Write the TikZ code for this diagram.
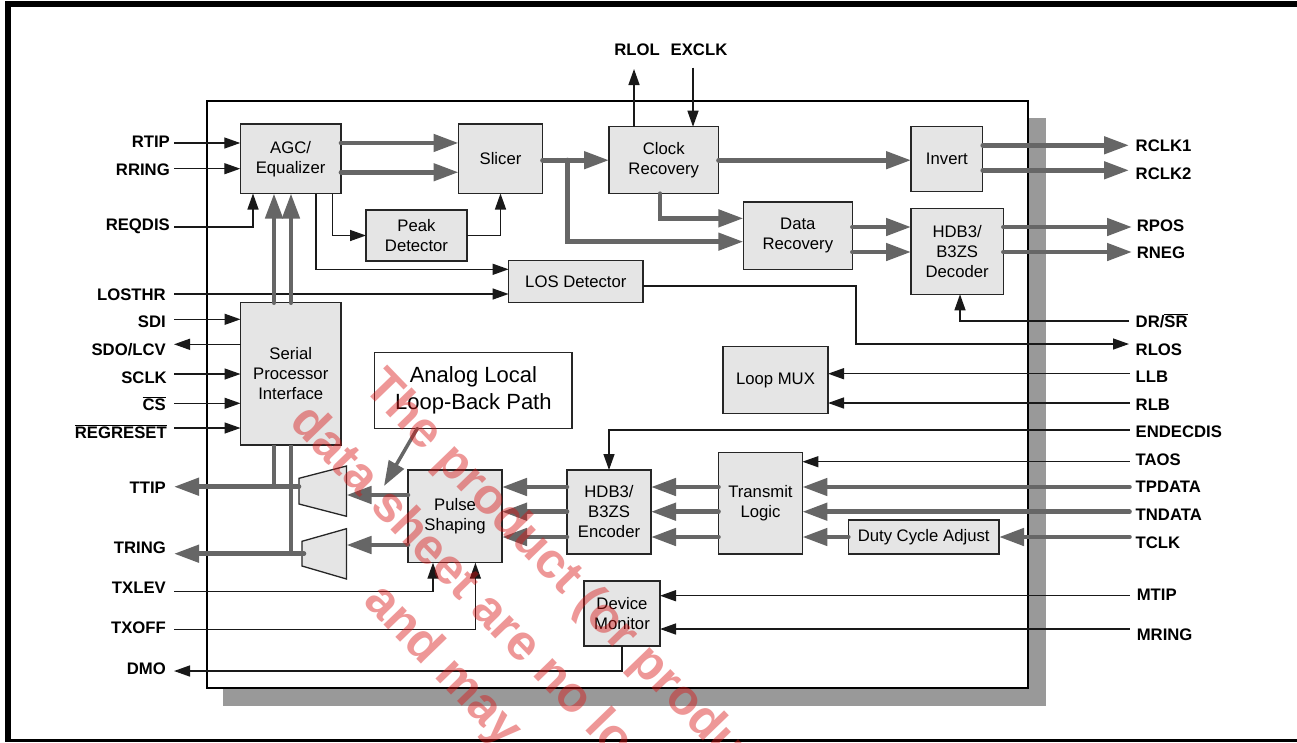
\documentclass[tikz,border=0pt]{standalone}
\usepackage{fontspec}
\setmainfont{Liberation Sans}
\usetikzlibrary{arrows.meta}

\definecolor{busgray}{gray}{0.40}
\definecolor{shadowgray}{gray}{0.60}
\definecolor{blockgray}{gray}{0.90}
\definecolor{stampred}{RGB}{217,20,20}

\tikzset{
    block/.style={draw=black!85, fill=blockgray, line width=1.4pt, inner sep=0pt, outer sep=0pt,
        align=center, font=\fontsize{16.7}{20}\selectfont},
    wire/.style={line width=1.4pt, draw=black!90, -{Triangle[length=16pt,width=11pt]}},
    bus/.style={line width=4.6pt, draw=busgray, line cap=round, -{Triangle[length=25pt,width=17pt]}},
    busline/.style={line width=4.6pt, draw=busgray},
    pinlabel/.style={inner sep=0pt, font=\fontsize{16.7}{18}\selectfont\bfseries},
    mux/.style={draw=black!85, fill=blockgray, line width=1.3pt},
    stamp/.style={inner sep=0pt, text=stampred, text opacity=0.44, rotate=-46, anchor=base west,
        font=\fontsize{50}{60}\selectfont\bfseries}
}

\begin{document}
\begin{tikzpicture}[x=1pt, y=-1pt]
    \useasboundingbox (0,0) rectangle (1297,742);

    % Page frame
    \fill[white] (0,0) rectangle (1297,742);
    \fill[black] (5,1) rectangle (1297,7);
    \fill[black] (5,1) rectangle (11,742);
    \fill[black] (5,738.7) rectangle (1297,742);

    % Chip outline and shadow
    \fill[shadowgray] (223,118) rectangle (1046,706);
    \draw[fill=white, line width=1.3pt] (207,101) rectangle (1028,688);

    % Blocks
    \node[block, minimum width=100.7pt, minimum height=69.5pt] (agc) at (290.6,158.75) {AGC/\\Equalizer};
    \node[block, minimum width=84pt, minimum height=69.5pt] (slicer) at (500.5,158.75) {Slicer};
    \node[block, minimum width=101pt, minimum height=51pt] (peak) at (416.5,235.5) {Peak\\Detector};
    \node[block, minimum width=134.4pt, minimum height=41.9pt] (los) at (575.8,281.6) {LOS Detector};
    \node[block, minimum width=100.5pt, minimum height=142.3pt] (serial) at (290.75,373.85) {Serial\\Processor\\Interface};
    \node[block, fill=white, minimum width=197.3pt, minimum height=75.6pt, font=\fontsize{22}{26.6}\selectfont] (analog) at (473.35,390.5) {Analog Local\\Loop-Back Path};
    \node[block, minimum width=109.5pt, minimum height=67pt] (clock) at (663.75,160.2) {Clock\\Recovery};
    \node[block, minimum width=71.7pt, minimum height=65pt] (invert) at (946.85,159.2) {Invert};
    \node[block, minimum width=109.1pt, minimum height=67.3pt] (data) at (797.85,235.65) {Data\\Recovery};
    \node[block, minimum width=92.4pt, minimum height=86pt] (dec) at (957.2,251.3) {HDB3/\\B3ZS\\Decoder};
    \node[block, minimum width=105pt, minimum height=66.6pt] (loop) at (775.5,380) {Loop MUX};
    \node[block, minimum width=83.9pt, minimum height=101.7pt] (trans) at (760.45,503.15) {Transmit\\Logic};
    \node[block, minimum width=150.7pt, minimum height=34pt] (duty) at (923.65,537) {Duty Cycle Adjust};
    \node[block, minimum width=84pt, minimum height=84pt] (enc) at (609,512) {HDB3/\\B3ZS\\Encoder};
    \node[block, minimum width=94pt, minimum height=92.7pt] (pulse) at (455,516.35) {Pulse\\Shaping};
    \node[block, minimum width=76pt, minimum height=65pt] (mon) at (622,613.5) {Device\\Monitor};

    % Output drivers
    \draw[mux] (299,478.3) -- (346.5,466) -- (346.5,516.3) -- (299,504) -- cycle;
    \draw[mux] (302,541.3) -- (346.5,528.7) -- (346.5,579) -- (302,566) -- cycle;
    \coordinate (muxa-in) at (346.5,495);
    \coordinate (muxb-in) at (346.5,545);
    \coordinate (muxa-out) at (299,486.7);
    \coordinate (muxb-out) at (304,553.7);
    \coordinate (busa) at (274,445);
    \coordinate (busb) at (291,445);
    \coordinate (fork) at (567.5,160);
    \coordinate (rlos-turn) at (856,344);
    \coordinate (loopback-tip) at (384,486);

    % Left pins: name/text/right edge/text y/line y
    \foreach \pin/\pintext/\lx/\ly/\wy in {rtip/RTIP/170/141/143, rring/RRING/170/169/168.7,
        reqdis/REQDIS/170/224/227, losthr/LOSTHR/166/294/294, sdi/SDI/166/321/319.3,
        sdo/{SDO/LCV}/166/349/344.3, sclk/SCLK/167/377/374,
        cs/{$\overline{\mbox{CS}}$}/166/404/403.3, regreset/{$\overline{\mbox{REGRESET}}$}/167/432/428,
        ttip/TTIP/166/487/486.7, tring/TRING/166/547/553.7, txlev/TXLEV/166/587/591.7,
        txoff/TXOFF/166/627/629.3, dmo/DMO/166/668/671} {
        \node[pinlabel, anchor=base east, yshift=-6pt] (\pin) at (\lx,\ly) {\pintext};
        \coordinate (\pin-end) at (174,\wy);
    }

    % Right pins: name/text/left edge/text y/line x/line y
    \foreach \pin/\pintext/\lx/\ly/\wx/\wy in {rclk1/RCLK1/1135.5/145/1129/145.3, rclk2/RCLK2/1135.5/173/1129/170.3,
        rpos/RPOS/1136.6/225/1132/227, rneg/RNEG/1136.6/252.7/1132/252,
        drsr/{DR/$\overline{\mbox{SR}}$}/1135.5/321/1129/321, rlos/RLOS/1135.5/349/1129/344,
        llb/LLB/1135.5/376/1129.5/373.7, rlb/RLB/1135.5/404/1129.5/403,
        endecdis/ENDECDIS/1135.5/431/1129.5/430, taos/TAOS/1135.5/459/1129.5/461.7,
        tpdata/TPDATA/1135.5/486/1129.5/487, tndata/TNDATA/1135.5/514/1129.5/511.7,
        tclk/TCLK/1135.5/542/1129.5/537, mtip/MTIP/1136.6/594/1129.5/595.7,
        mring/MRING/1136.6/634/1129.5/629} {
        \node[pinlabel, anchor=base west, yshift=-6pt] (\pin) at (\lx,\ly) {\pintext};
        \coordinate (\pin-end) at (\wx,\wy);
    }

    % Top pins
    \node[pinlabel] (rlol) at (637,50) {RLOL};
    \node[pinlabel] (exclk) at (699,50) {EXCLK};
    \coordinate (rlol-end) at (634,69);
    \coordinate (exclk-end) at (693,67.7);

    % Receive side
    \draw[wire] (rtip-end) -- (agc.west |- rtip-end);
    \draw[wire] (rring-end) -- (agc.west |- rring-end);
    \draw[wire] (reqdis-end) -| ([xshift=-37.6pt]agc.south);
    \draw[bus] ([yshift=15.8pt]agc.east) -- ([yshift=15.8pt]slicer.west);
    \draw[bus] ([yshift=-13.5pt]agc.east) -- ([yshift=-13.5pt]slicer.west);
    \draw[wire] ([xshift=42pt]agc.south) |- (peak.west);
    \draw[wire] (peak.east) -| (slicer.south);
    \draw[wire] ([xshift=25.4pt]agc.south) |- ([yshift=12.3pt]los.west);
    \draw[wire] (losthr-end) -- (los.west |- losthr-end);
    \draw[bus] (slicer.east |- clock.west) -- (clock.west);
    \draw[bus] (fork) |- ([yshift=-6pt]data.west);
    \draw[bus] ([xshift=-3.75pt]clock.south) |- ([yshift=17.3pt]data.west);
    \draw[bus] (clock.east) -- (invert.west |- clock.east);
    \draw[bus] (invert.east |- rclk1-end) -- (rclk1-end);
    \draw[bus] (invert.east |- rclk2-end) -- (rclk2-end);
    \draw[bus] (data.east |- rpos-end) -- (dec.west |- rpos-end);
    \draw[bus] (data.east |- rneg-end) -- (dec.west |- rneg-end);
    \draw[bus] (dec.east |- rpos-end) -- (rpos-end);
    \draw[bus] (dec.east |- rneg-end) -- (rneg-end);
    \draw[wire] ([yshift=-4.4pt]los.east) -| (rlos-turn) -- (rlos-end);
    \draw[wire] (drsr-end) -| ([xshift=2.8pt]dec.south);
    \draw[wire] (clock.north -| rlol-end) -- (rlol-end);
    \draw[wire] (exclk-end) -- (clock.north -| exclk-end);
    \draw[wire] (llb-end) -- (loop.east |- llb-end);
    \draw[wire] (rlb-end) -- (loop.east |- rlb-end);

    % Serial port
    \draw[wire] (sdi-end) -- (serial.west |- sdi-end);
    \draw[wire] (serial.west |- sdo-end) -- (sdo-end);
    \draw[wire] (sclk-end) -- (serial.west |- sclk-end);
    \draw[wire] (cs-end) -- (serial.west |- cs-end);
    \draw[wire] (regreset-end) -- (serial.west |- regreset-end);
    \draw[bus] (busa |- serial.north) -- (busa |- agc.south);
    \draw[bus] (busb |- serial.north) -- (busb |- agc.south);
    \draw[busline] (busa) -- (busa |- ttip-end);
    \draw[busline] (busb) -- (busb |- tring-end);

    % Transmit side
    \draw[wire] (endecdis-end) -| (enc.north);
    \draw[wire] (taos-end) -- (trans.east |- taos-end);
    \draw[bus] (tpdata-end) -- (trans.east |- tpdata-end);
    \draw[bus] (tndata-end) -- (trans.east |- tndata-end);
    \draw[bus] (tclk-end) -- (duty.east |- tclk-end);
    \draw[bus] (duty.west) -- (trans.east |- duty.west);
    \foreach \src in {tpdata-end, tndata-end, tclk-end} {
        \draw[bus] (trans.west |- \src) -- (enc.east |- \src);
        \draw[bus] (enc.west |- \src) -- (pulse.east |- \src);
    }
    \draw[bus] (pulse.west |- muxa-in) -- (muxa-in);
    \draw[bus] (pulse.west |- muxb-in) -- (muxb-in);
    \draw[bus] (muxa-out) -- (ttip-end);
    \draw[bus] (muxb-out) -- (tring-end);
    \draw[bus, line width=3.5pt] ([xshift=-56pt]analog.south) -- (loopback-tip);
    \draw[wire] (txlev-end) -| ([xshift=-22pt]pulse.south);
    \draw[wire] (txoff-end) -| ([xshift=20.4pt]pulse.south);

    % Device monitor
    \draw[wire] (mtip-end) -- (mon.east |- mtip-end);
    \draw[wire] (mring-end) -- (mon.east |- mring-end);
    \draw[wire] (mon.south) |- (dmo-end);

    % Stamp across the page
    \begin{scope}
        \clip (0,0) rectangle (1297,742);
        \node[stamp] (stampa) at (362,388) {The product (or produ};
        \node[stamp] (stampb) at (288,423) {data sheet are no lo};
        \node[stamp] (stampc) at (362,602) {and may};
    \end{scope}
\end{tikzpicture}
\end{document}
